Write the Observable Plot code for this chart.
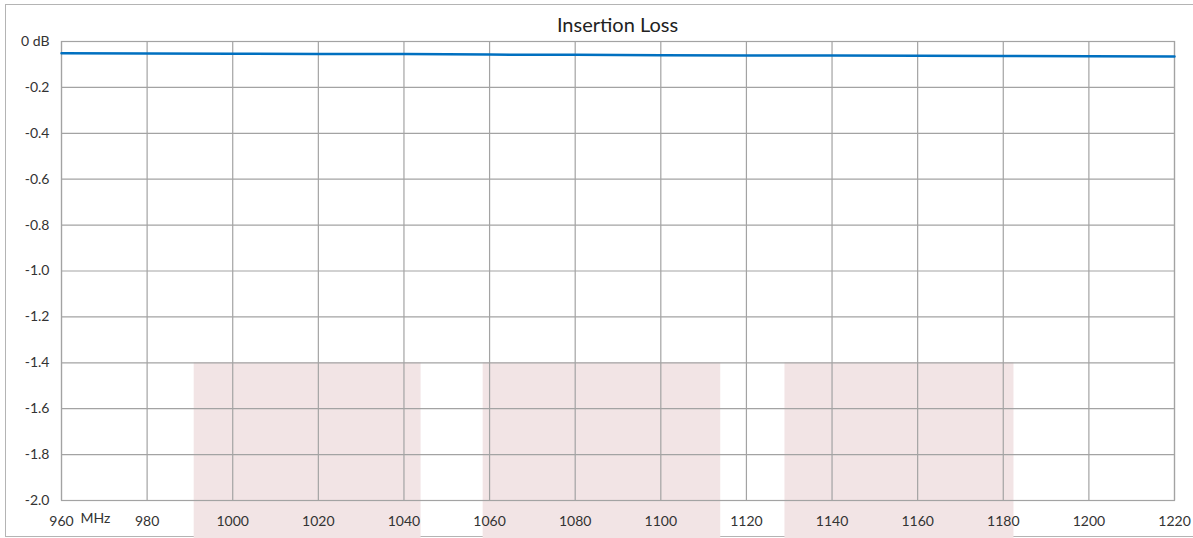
<!DOCTYPE html>
<html>
<head>
<meta charset="utf-8">
<script src="https://cdn.jsdelivr.net/npm/d3@7"></script>
<script src="https://cdn.jsdelivr.net/npm/@observablehq/plot@0.6"></script>
<style>
  html, body { margin: 0; padding: 0; background: #fff; }
  #wrap { position: relative; width: 1193px; height: 538px; overflow: hidden; font-family: Lato, "Open Sans", sans-serif; }
  #border { position: absolute; left: 5px; top: 4px; width: 1200px; height: 533px; border: 1px solid #b4b4b4; box-sizing: border-box; }
  #title { position: absolute; left: 61px; width: 1113px; top: 12px; text-align: center; font-size: 20px; color: #222; }
  #chart { position: absolute; left: 0; top: 0; }
</style>
</head>
<body>
<div id="wrap">
  <div id="border"></div>
  <div id="chart"></div>
  <div id="title">Insertion Loss</div>
</div>
<script>
// Frequency (MHz) and insertion loss (dB)
const freq = [960, 980, 1000, 1020, 1040, 1060, 1080, 1100, 1120, 1140, 1160, 1180, 1200, 1220];
const loss = [-0.051, -0.052, -0.053, -0.054, -0.055, -0.057, -0.058, -0.060, -0.061, -0.061, -0.062, -0.063, -0.064, -0.065];

// Shaded bands (MHz)
const bandStart = [991, 1058.5, 1129];
const bandEnd = [1044, 1114, 1182.5];
const bandTop = -1.4;
const bandBottom = -2.17;

const xTicks = [960, 980, 1000, 1020, 1040, 1060, 1080, 1100, 1120, 1140, 1160, 1180, 1200, 1220];
const yTicks = [0, -0.2, -0.4, -0.6, -0.8, -1.0, -1.2, -1.4, -1.6, -1.8, -2.0];

const lineData = freq.map((f, i) => ({f, v: loss[i]}));
const bands = bandStart.map((s, i) => ({x1: s, x2: bandEnd[i], y1: bandTop, y2: bandBottom}));

const grid = "#a3a3a3";
const font = "Lato, 'Open Sans', sans-serif";
const chart = Plot.plot({
  width: 1193,
  height: 538,
  marginLeft: 61,
  marginRight: 19,
  marginTop: 41,
  marginBottom: 38,
  style: {fontFamily: font, fontSize: "14px", color: "#333", background: "transparent"},
  x: {domain: [960, 1220], label: null},
  y: {domain: [-2, 0], label: null},
  marks: [
    Plot.rect(bands, {x1: "x1", x2: "x2", y1: "y1", y2: "y2", fill: "#f2e4e5"}),
    Plot.gridX(xTicks, {stroke: grid, strokeOpacity: 1, strokeWidth: 1.2}),
    Plot.gridY(yTicks, {stroke: grid, strokeOpacity: 1, strokeWidth: 1.2}),
    Plot.frame({stroke: grid, strokeWidth: 1.2}),
    Plot.line(lineData, {x: "f", y: "v", stroke: "#0070c0", strokeWidth: 2.5}),
    Plot.axisX(xTicks, {tickSize: 0, tickPadding: 16, tickFormat: d => String(d), label: null, fontSize: 14, fill: "#333"}),
    Plot.axisY(yTicks, {tickSize: 0, tickPadding: 12, tickFormat: d => d === 0 ? "0 dB" : d.toFixed(1), label: null, fontSize: 14, fill: "#333"}),
    Plot.text(["MHz"], {x: () => 960, frameAnchor: "bottom", text: d => d, textAnchor: "start", dx: 19, dy: 22, fontSize: 14, fill: "#333"})
  ]
});
document.getElementById("chart").appendChild(chart);
</script>
</body>
</html>
